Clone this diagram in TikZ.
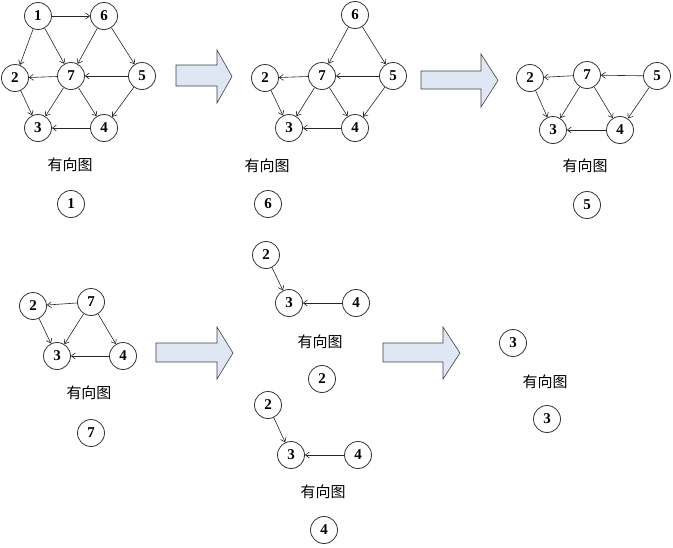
\documentclass[tikz,border=0pt]{standalone}
\usepackage{fontspec}
\setmainfont{Liberation Serif}
\newfontfamily\cjk{Noto Sans CJK SC}
\usetikzlibrary{arrows.meta}
\definecolor{arrowfill}{HTML}{DFE7F5}
\begin{document}
\begin{tikzpicture}[x=1pt,y=-1pt,
  vtx/.style={circle,draw=black!80,line width=0.8pt,minimum size=27pt,inner sep=0pt,font=\fontsize{15}{15}\selectfont\bfseries},
  edge/.style={draw=black!85,line width=0.6pt,-{Straight Barb[length=4pt,width=6pt]}},
  captext/.style={font=\cjk\fontsize{15}{15}\selectfont,inner sep=0pt},
  bigarrow/.style={draw=black!75,line width=0.6pt,fill=arrowfill}]
\useasboundingbox (0,0) rectangle (673,547);

% graph 1
\node[vtx] (a1) at (38,16) {1};
\node[vtx] (a6) at (104,16) {6};
\node[vtx] (a2) at (15,78) {2};
\node[vtx] (a7) at (71,76) {7};
\node[vtx] (a5) at (142,76) {5};
\node[vtx] (a3) at (38,128) {3};
\node[vtx] (a4) at (104,128) {4};
\foreach \s/\t in {a1/a6,a1/a2,a1/a7,a6/a7,a6/a5,a7/a2,a5/a7,a2/a3,a7/a3,a7/a4,a5/a4,a4/a3}
  \draw[edge] (\s) -- (\t);
\node[captext] (ac) at (70,165) {有向图};
\node[vtx] (ar) at (71,204) {1};

% graph 2
\node[vtx] (b6) at (355,15) {6};
\node[vtx] (b2) at (265,78) {2};
\node[vtx] (b7) at (322,76) {7};
\node[vtx] (b5) at (393,76) {5};
\node[vtx] (b3) at (289,128) {3};
\node[vtx] (b4) at (355,128) {4};
\foreach \s/\t in {b6/b7,b6/b5,b7/b2,b5/b7,b2/b3,b7/b3,b7/b4,b5/b4,b4/b3}
  \draw[edge] (\s) -- (\t);
\node[captext] (bc) at (267,166) {有向图};
\node[vtx] (br) at (268,204) {6};

% graph 3
\node[vtx] (c2) at (530,78) {2};
\node[vtx] (c7) at (587,75) {7};
\node[vtx] (c5) at (657,76) {5};
\node[vtx] (c3) at (553,130) {3};
\node[vtx] (c4) at (620,130) {4};
\foreach \s/\t in {c7/c2,c5/c7,c2/c3,c7/c3,c7/c4,c5/c4,c4/c3}
  \draw[edge] (\s) -- (\t);
\node[captext] (cc) at (585,166) {有向图};
\node[vtx] (cr) at (587,205) {5};

% graph 4
\node[vtx] (d2) at (33,306) {2};
\node[vtx] (d7) at (91,302) {7};
\node[vtx] (d3) at (57,356) {3};
\node[vtx] (d4) at (123,356) {4};
\foreach \s/\t in {d7/d2,d2/d3,d7/d3,d7/d4,d4/d3}
  \draw[edge] (\s) -- (\t);
\node[captext] (dc) at (89,393) {有向图};
\node[vtx] (dr) at (91,433) {7};

% graph 5
\node[vtx] (e2) at (266,255) {2};
\node[vtx] (e3) at (289,303) {3};
\node[vtx] (e4) at (356,303) {4};
\draw[edge] (e2) -- (e3);
\draw[edge] (e4) -- (e3);
\node[captext] (ec) at (320,342) {有向图};
\node[vtx] (er) at (322,379) {2};

% graph 6
\node[vtx] (f2) at (268,405) {2};
\node[vtx] (f3) at (291,455) {3};
\node[vtx] (f4) at (358,455) {4};
\draw[edge] (f2) -- (f3);
\draw[edge] (f4) -- (f3);
\node[captext] (fc) at (323,492) {有向图};
\node[vtx] (fr) at (324,530) {4};

% graph 7
\node[vtx] (g3) at (513,343) {3};
\node[captext] (gc) at (545,382) {有向图};
\node[vtx] (gr) at (547,419) {3};

% big arrows
\draw[bigarrow] (176,65) -- (217,65) -- (217,50) -- (232,76.5) -- (217,103) -- (217,86) -- (176,86) -- cycle;
\draw[bigarrow] (421,71) -- (481,71) -- (481,54) -- (498,80.5) -- (481,107) -- (481,89) -- (421,89) -- cycle;
\draw[bigarrow] (156,343) -- (217,343) -- (217,327) -- (233,353) -- (217,379) -- (217,362) -- (156,362) -- cycle;
\draw[bigarrow] (383,343) -- (443,343) -- (443,327) -- (460,353) -- (443,379) -- (443,362) -- (383,362) -- cycle;
\end{tikzpicture}
\end{document}
